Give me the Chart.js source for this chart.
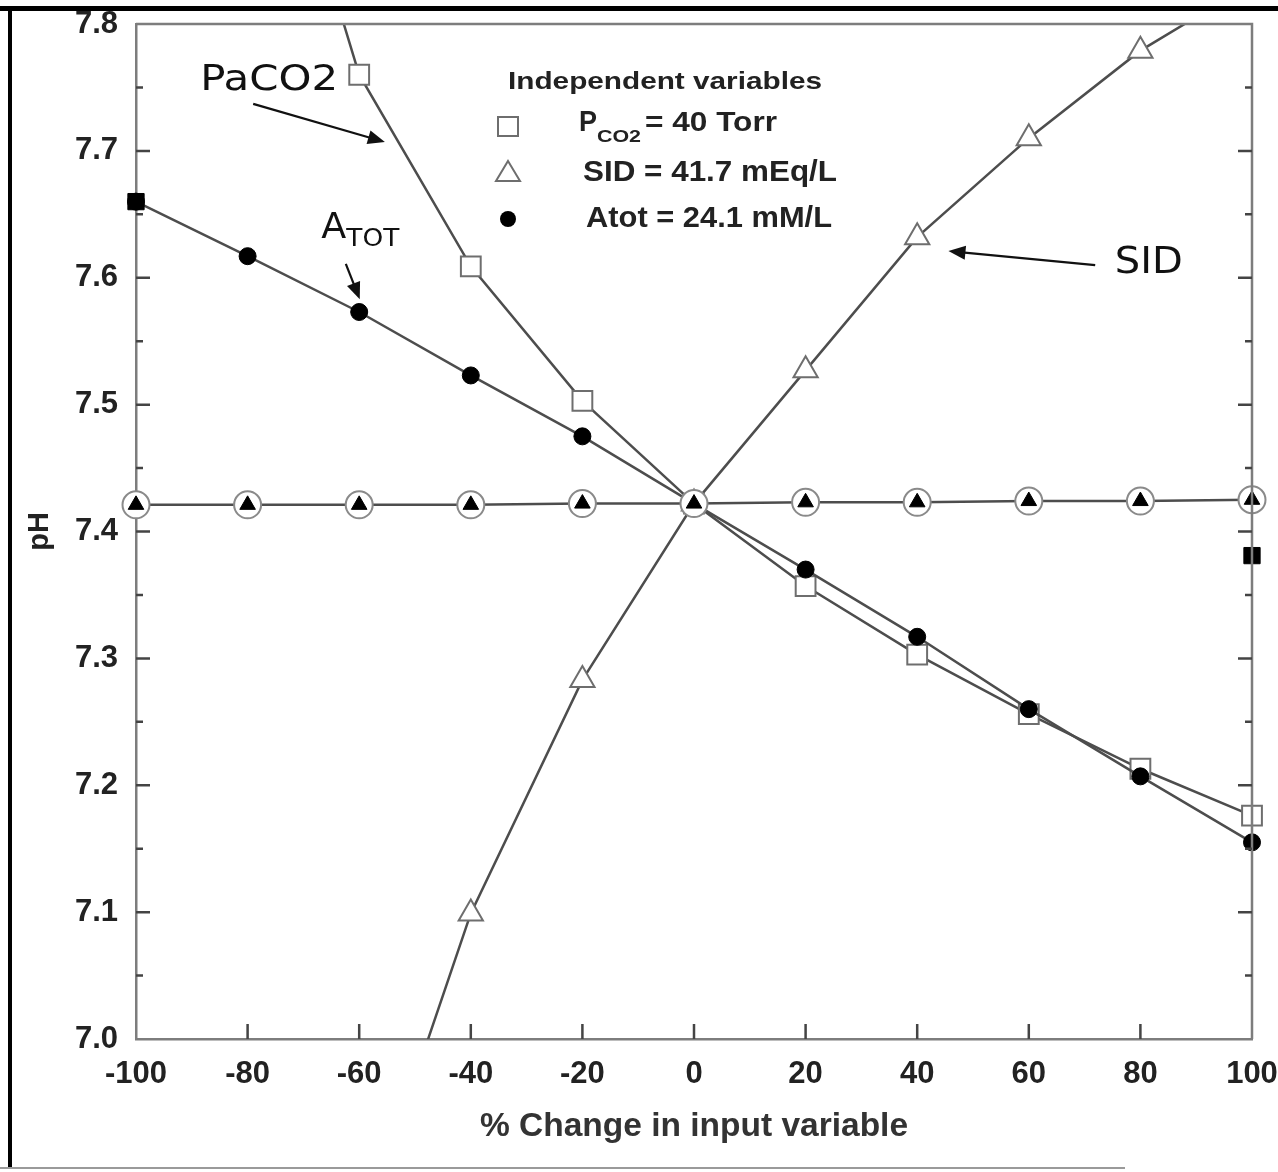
<!DOCTYPE html>
<html><head><meta charset="utf-8">
<script src="https://cdn.jsdelivr.net/npm/chart.js@4/dist/chart.umd.min.js"></script>
<style>html,body{margin:0;padding:0;background:#fff;}canvas{display:block;}</style>
</head><body>
<canvas id="c" width="1278" height="1172"></canvas>
<script>
// ---- data ----
const categories = [-100, -80, -60, -40, -20, 0, 20, 40, 60, 80, 100];
const pco2Values = [null, 8.05, 7.760, 7.609, 7.503, 7.422, 7.357, 7.303, 7.256, 7.213, 7.176];
const sidValues = [null, null, 6.84, 7.099, 7.283, 7.422, 7.527, 7.632, 7.710, 7.779, 7.832];
const atotValues = [7.660, 7.617, 7.573, 7.523, 7.475, 7.422, 7.370, 7.317, 7.260, 7.207, 7.155];
const baselineValues = [7.421, 7.421, 7.421, 7.421, 7.422, 7.422, 7.423, 7.423, 7.424, 7.424, 7.425];
const extraSquareValues = [7.660, null, null, null, null, null, null, null, null, null, 7.381];
const xTickValues = [-100, -80, -60, -40, -20, 0, 20, 40, 60, 80, 100];
const yTickValues = [7.0, 7.1, 7.2, 7.3, 7.4, 7.5, 7.6, 7.7, 7.8];
const xTitle = '% Change in input variable';
const yTitle = 'pH';
const legendTitle = 'Independent variables';
const legendItems = ['P|CO2|= 40 Torr', 'SID = 41.7 mEq/L', 'Atot = 24.1 mM/L'];

const toPts = arr => categories.map((x, i) => ({x: x, y: arr[i]}));
const LINE = '#4d4d4d', MARK = '#6e6e6e', TXT = '#222';
const FONT = '"Liberation Sans", Arial, sans-serif';

function fitText(ctx, text, x, y, width) {
  const w = ctx.measureText(text).width;
  ctx.save(); ctx.translate(x, y); ctx.scale(width / w, 1); ctx.fillText(text, 0, 0); ctx.restore();
}
function arrow(ctx, x1, y1, x2, y2) {
  ctx.save();
  ctx.strokeStyle = '#111'; ctx.fillStyle = '#111'; ctx.lineWidth = 2.2;
  const a = Math.atan2(y2 - y1, x2 - x1), L = 17, W = 7;
  ctx.beginPath(); ctx.moveTo(x1, y1); ctx.lineTo(x2 - L * 0.8 * Math.cos(a), y2 - L * 0.8 * Math.sin(a)); ctx.stroke();
  ctx.beginPath();
  ctx.moveTo(x2, y2);
  ctx.lineTo(x2 - L * Math.cos(a) + W * Math.sin(a), y2 - L * Math.sin(a) - W * Math.cos(a));
  ctx.lineTo(x2 - L * Math.cos(a) - W * Math.sin(a), y2 - L * Math.sin(a) + W * Math.cos(a));
  ctx.closePath(); ctx.fill();
  ctx.restore();
}

const decor = {
  id: 'decor',
  beforeDraw(chart) {
    const ctx = chart.ctx;
    ctx.save();
    ctx.fillStyle = '#fff'; ctx.fillRect(0, 0, chart.width, chart.height);
    ctx.restore();
  },
  afterDraw(chart) {
    const ctx = chart.ctx, a = chart.chartArea;
    const xs = chart.scales.x, ys = chart.scales.y;
    ctx.save();
    // frame of the plot (top and right)
    ctx.strokeStyle = '#7d7d7d'; ctx.lineWidth = 2.5;
    ctx.beginPath(); ctx.moveTo(a.left, a.top); ctx.lineTo(a.right, a.top); ctx.lineTo(a.right, a.bottom); ctx.stroke();
    // inward ticks
    ctx.strokeStyle = '#444'; ctx.lineWidth = 2.5;
    ctx.beginPath();
    for (let v = 7.0; v <= 7.8001; v += 0.05) {
      const y = ys.getPixelForValue(v);
      const major = Math.abs(v * 10 - Math.round(v * 10)) < 1e-6;
      const len = major ? 14 : 7;
      if (v > 7.001 && v < 7.799) {
        ctx.moveTo(a.left, y); ctx.lineTo(a.left + len, y);
        ctx.moveTo(a.right, y); ctx.lineTo(a.right - len, y);
      }
    }
    xTickValues.forEach(v => {
      if (v > -100 && v < 100) {
        const x = xs.getPixelForValue(v);
        ctx.moveTo(x, a.bottom); ctx.lineTo(x, a.bottom - 15);
      }
    });
    ctx.stroke();

    // annotations (anchored in data coordinates)
    const P = (x, y) => [xs.getPixelForValue(x), ys.getPixelForValue(y)];
    ctx.fillStyle = '#111'; ctx.textBaseline = 'alphabetic'; ctx.textAlign = 'left';
    ctx.font = '36px "DejaVu Sans", sans-serif';
    let p = P(-88.5, 7.748); fitText(ctx, 'PaCO2', p[0], p[1], 138);
    let s = P(-79.0, 7.737), e = P(-55.4, 7.707); arrow(ctx, s[0], s[1], e[0], e[1]);
    ctx.font = '35px "DejaVu Sans", sans-serif';
    p = P(-66.8, 7.631); fitText(ctx, 'A', p[0], p[1], 25);
    ctx.font = '25px "DejaVu Sans", sans-serif';
    p = P(-62.3, 7.625); fitText(ctx, 'TOT', p[0], p[1], 53);
    s = P(-62.4, 7.611); e = P(-59.9, 7.583); arrow(ctx, s[0], s[1], e[0], e[1]);
    ctx.font = '37px "DejaVu Sans", sans-serif';
    p = P(75.4, 7.604); fitText(ctx, 'SID', p[0], p[1], 68);
    s = P(71.9, 7.610); e = P(45.6, 7.621); arrow(ctx, s[0], s[1], e[0], e[1]);

    // legend
    const lx = a.left + 372;
    ctx.fillStyle = TXT;
    ctx.font = 'bold 24px ' + FONT;
    fitText(ctx, legendTitle, a.left + 372, 89, 314);
    // square
    ctx.strokeStyle = MARK; ctx.lineWidth = 2; ctx.fillStyle = '#fff';
    ctx.beginPath(); ctx.rect(lx - 10, 117, 20, 19); ctx.fill(); ctx.stroke();
    // triangle
    ctx.beginPath(); ctx.moveTo(lx, 161); ctx.lineTo(lx + 12, 181); ctx.lineTo(lx - 12, 181); ctx.closePath(); ctx.fill(); ctx.stroke();
    // circle
    ctx.fillStyle = '#000';
    ctx.beginPath(); ctx.arc(lx, 219, 8, 0, Math.PI * 2); ctx.fill();
    ctx.fillStyle = TXT;
    const parts = legendItems[0].split('|');
    ctx.font = 'bold 29px ' + FONT; fitText(ctx, parts[0], 579, 131, 18);
    ctx.font = 'bold 16px ' + FONT; fitText(ctx, parts[1], 597, 142, 44);
    ctx.font = 'bold 28px ' + FONT; fitText(ctx, parts[2], 645, 131, 132);
    ctx.font = 'bold 29px ' + FONT; fitText(ctx, legendItems[1], 583, 181, 254);
    ctx.font = 'bold 29px ' + FONT; fitText(ctx, legendItems[2], 586, 227, 246);

    // outer frame of the scanned figure
    ctx.fillStyle = '#000';
    ctx.fillRect(0, 6, chart.width, 5);
    ctx.fillRect(8, 6, 4, 1162);
    ctx.fillStyle = '#9a9a9a';
    ctx.fillRect(0, 1167, 1125, 2);
    ctx.restore();
  }
};

const tickFont = {family: FONT, size: 31, weight: 'bold'};
new Chart(document.getElementById('c'), {
  type: 'line',
  data: {
    datasets: [
      {label: 'baseline triangles', data: toPts(baselineValues), showLine: false, pointStyle: 'triangle',
       pointRadius: 9, pointBackgroundColor: '#000', pointBorderColor: '#000', pointBorderWidth: 1, clip: false, order: 1},
      {label: 'baseline circles', data: toPts(baselineValues), borderColor: LINE, borderWidth: 2.5, pointStyle: 'circle',
       pointRadius: 13.5, pointBackgroundColor: '#fff', pointBorderColor: '#8a8a8a', pointBorderWidth: 2, clip: false, order: 2},
      {label: 'extra squares', data: toPts(extraSquareValues), showLine: false, pointStyle: 'rect',
       pointRadius: 11.5, pointBackgroundColor: '#000', pointBorderColor: '#000', pointBorderWidth: 1, clip: false, order: 3},
      {label: 'Atot', data: toPts(atotValues), borderColor: LINE, borderWidth: 2.5, pointStyle: 'circle',
       pointRadius: 8.5, pointBackgroundColor: '#000', pointBorderColor: '#000', pointBorderWidth: 1, clip: false, order: 4},
      {label: 'PCO2', data: toPts(pco2Values), borderColor: LINE, borderWidth: 2.5, pointStyle: 'rect',
       pointRadius: 14, pointBackgroundColor: '#fff', pointBorderColor: MARK, pointBorderWidth: 2,
       clip: {left: 30, right: 30, top: 0, bottom: 0}, order: 5},
      {label: 'SID', data: toPts(sidValues), borderColor: LINE, borderWidth: 2.5, pointStyle: 'triangle',
       pointRadius: 14, pointBackgroundColor: '#fff', pointBorderColor: MARK, pointBorderWidth: 2,
       clip: {left: 30, right: 30, top: 0, bottom: 0}, order: 6}
    ]
  },
  options: {
    responsive: false, animation: false, devicePixelRatio: 1,
    layout: {padding: {left: 0, right: 26, top: 24, bottom: 0}},
    plugins: {legend: {display: false}, tooltip: {enabled: false}},
    elements: {line: {tension: 0}},
    scales: {
      x: {
        type: 'linear', min: -100, max: 100,
        afterBuildTicks: sc => { sc.ticks = xTickValues.map(v => ({value: v})); },
        afterFit: sc => { sc.height = 133; sc.paddingLeft = 0; sc.paddingRight = 0; },
        grid: {display: false, drawTicks: false},
        border: {display: true, color: '#7d7d7d', width: 2.5},
        ticks: {font: tickFont, color: TXT, padding: 17, maxRotation: 0, autoSkip: false, callback: v => String(v)},
        title: {display: true, text: xTitle, font: {family: FONT, size: 33.5, weight: 'bold'}, color: '#333', padding: {top: 0, bottom: 25}}
      },
      y: {
        type: 'linear', min: 7.0, max: 7.8,
        afterBuildTicks: sc => { sc.ticks = yTickValues.map(v => ({value: v})); },
        afterFit: sc => { sc.width = 136; sc.paddingTop = 0; sc.paddingBottom = 0; },
        grid: {display: false, drawTicks: false},
        border: {display: true, color: '#7d7d7d', width: 2.5},
        ticks: {font: tickFont, color: TXT, padding: 18, autoSkip: false, callback: v => v.toFixed(1)},
        title: {display: true, text: yTitle, font: {family: FONT, size: 29, weight: 'bold'}, color: '#222', padding: {top: 23, bottom: 0}}
      }
    }
  },
  plugins: [decor]
});
</script>
</body></html>
